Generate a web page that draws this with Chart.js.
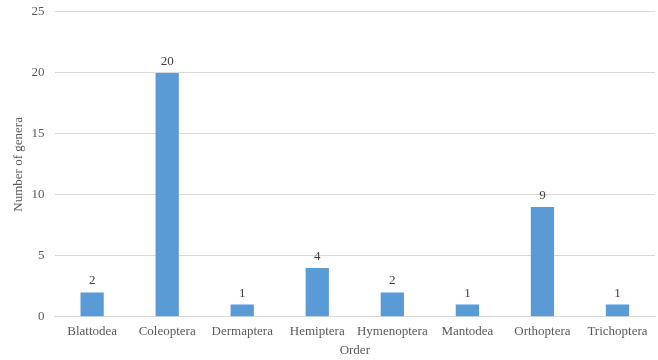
<!DOCTYPE html>
<html>
<head>
<meta charset="utf-8">
<script src="https://cdn.jsdelivr.net/npm/chart.js@4/dist/chart.umd.min.js"></script>
<style>
  html, body { margin: 0; padding: 0; background: #fff; }
  #wrap { width: 658px; height: 360px; }
</style>
</head>
<body>
<div id="wrap"><canvas id="generaChart"></canvas></div>
<script>
// données
const orders = ["Blattodea", "Coleoptera", "Dermaptera", "Hemiptera", "Hymenoptera", "Mantodea", "Orthoptera", "Trichoptera"];
const genera = [2, 20, 1, 4, 2, 1, 9, 1];
const yTicks = [0, 5, 10, 15, 20, 25];

const FONT = "'Liberation Serif', 'Times New Roman', serif";
const GREY = "#595959";

// étiquettes au-dessus des barres
const valueLabels = {
  id: "valueLabels",
  afterDatasetsDraw(chart) {
    const ctx = chart.ctx;
    const meta = chart.getDatasetMeta(0);
    ctx.save();
    ctx.font = "13px " + FONT;
    ctx.fillStyle = "#404040";
    ctx.textAlign = "center";
    ctx.textBaseline = "bottom";
    meta.data.forEach((bar, i) => {
      ctx.fillText(String(genera[i]), bar.x, bar.y - 5);
    });
    ctx.restore();
  },
};

new Chart(document.getElementById("generaChart"), {
  type: "bar",
  data: {
    labels: orders,
    datasets: [
      {
        label: "Number of genera",
        data: genera,
        backgroundColor: "#5b9bd5",
        categoryPercentage: 1,
        barPercentage: 0.31,
      },
    ],
  },
  options: {
    responsive: true,
    maintainAspectRatio: false,
    animation: false,
    layout: { padding: { top: 0, right: 3, left: 11, bottom: 0 } },
    plugins: { legend: { display: false }, tooltip: { enabled: false } },
    scales: {
      x: {
        grid: { display: false, drawTicks: false },
        border: { color: "#d9d9d9" },
        ticks: { color: GREY, font: { family: FONT, size: 13 }, padding: 7, maxRotation: 0, autoSkip: false },
        title: { display: true, text: "Order", color: GREY, font: { family: FONT, size: 13 }, padding: { top: -4, bottom: 2 } },
      },
      y: {
        min: 0,
        max: 25,
        afterBuildTicks: (axis) => { axis.ticks = yTicks.map((v) => ({ value: v })); },
        grid: { color: "#d9d9d9", drawTicks: false },
        border: { display: false },
        ticks: { color: GREY, font: { family: FONT, size: 13, lineHeight: 0.3 }, padding: 10 },
        title: { display: true, text: "Number of genera", color: GREY, font: { family: FONT, size: 13 }, padding: { top: 0, bottom: -5 } },
      },
    },
  },
  plugins: [valueLabels],
});
</script>
</body>
</html>
